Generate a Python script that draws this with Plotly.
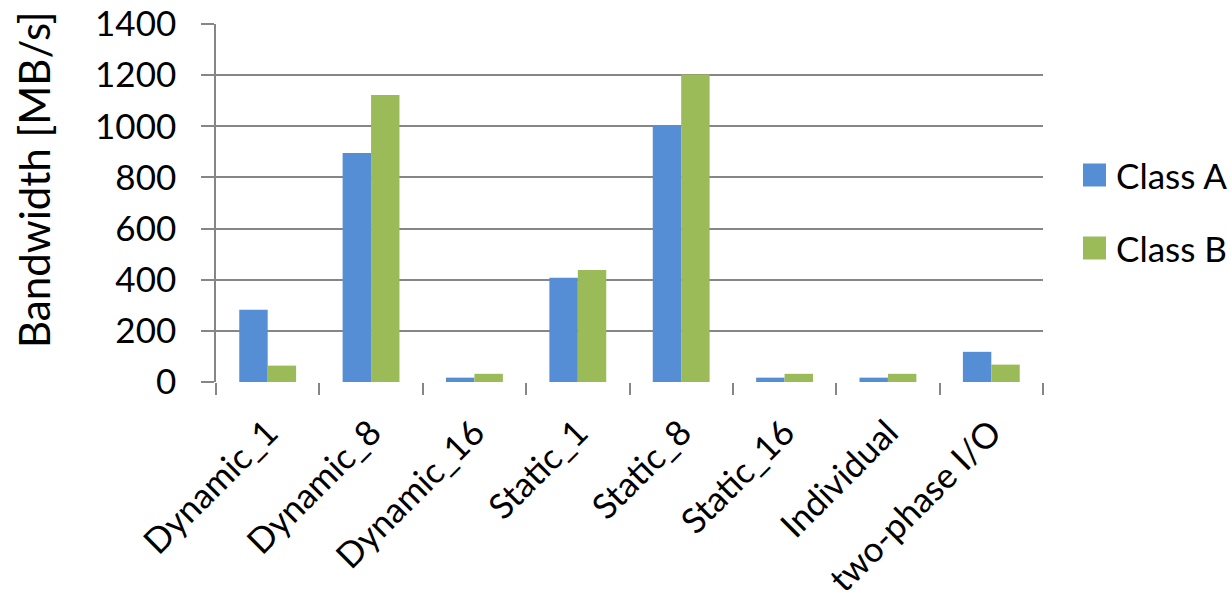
import plotly.graph_objects as go

categories = ["Dynamic_1", "Dynamic_8", "Dynamic_16", "Static_1", "Static_8",
              "Static_16", "Individual", "two-phase I/O"]
class_a = [283, 896, 17, 408, 1002, 17, 17, 118]
class_b = [64, 1122, 32, 438, 1203, 32, 32, 68]
series_names = ["Class A", "Class B"]
colors = ["#558ED5", "#9BBB59"]
y_ticks = [0, 200, 400, 600, 800, 1000, 1200, 1400]

W, H = 1230, 608
L, R, T, B = 216, 187, 24, 226
FONT = "Lato"
FS = 35
GRAY = "#868686"

fig = go.Figure()
for name, vals, col in zip(series_names, [class_a, class_b], colors):
    fig.add_trace(go.Bar(x=categories, y=vals, name=name, marker_color=col,
                         marker_line_width=0, showlegend=False))

fig.update_layout(
    width=W, height=H,
    margin=dict(l=L, r=R, t=T, b=B, pad=0, autoexpand=False),
    paper_bgcolor="white", plot_bgcolor="white",
    barmode="group", bargap=0.45, bargroupgap=0,
    font=dict(family=FONT, size=FS, color="black"),
)
fig.update_xaxes(
    automargin=False,
    showgrid=False, showline=False, zeroline=False,
    ticks="outside", tickson="boundaries", ticklen=12, tickwidth=1.5, tickcolor=GRAY,
    tickangle=-45, ticklabelstandoff=22, tickfont=dict(family=FONT, size=35),
)
fig.update_yaxes(
    automargin=False,
    range=[0, 1400], tickvals=y_ticks, showgrid=True, gridcolor=GRAY, gridwidth=1.5,
    showline=True, linecolor=GRAY, linewidth=1.5, zeroline=False,
    ticks="outside", ticklen=13, tickwidth=1.5, tickcolor=GRAY,
    ticklabelstandoff=18, tickfont=dict(family=FONT, size=FS),
)

pw = W - L - R
ph = H - T - B
def px_x(x):
    return (x - L) / pw
def px_y(y):
    return (H - B - y) / ph

fig.add_annotation(text="Bandwidth [MB/s]", textangle=-90, xref="paper", yref="paper",
                   x=px_x(34), y=px_y(180), xanchor="center", yanchor="middle",
                   showarrow=False, font=dict(family=FONT, size=42))

legend_y = [175, 248]
for name, col, yc in zip(series_names, colors, legend_y):
    fig.add_shape(type="rect", xref="paper", yref="paper",
                  x0=px_x(1083), x1=px_x(1106), y0=px_y(yc + 11.5), y1=px_y(yc - 11.5),
                  fillcolor=col, line_width=0)
    fig.add_annotation(text=name, xref="paper", yref="paper", x=px_x(1114), y=px_y(yc),
                       xanchor="left", yanchor="middle", showarrow=False,
                       font=dict(family=FONT, size=FS))

fig.write_html("out.html")
